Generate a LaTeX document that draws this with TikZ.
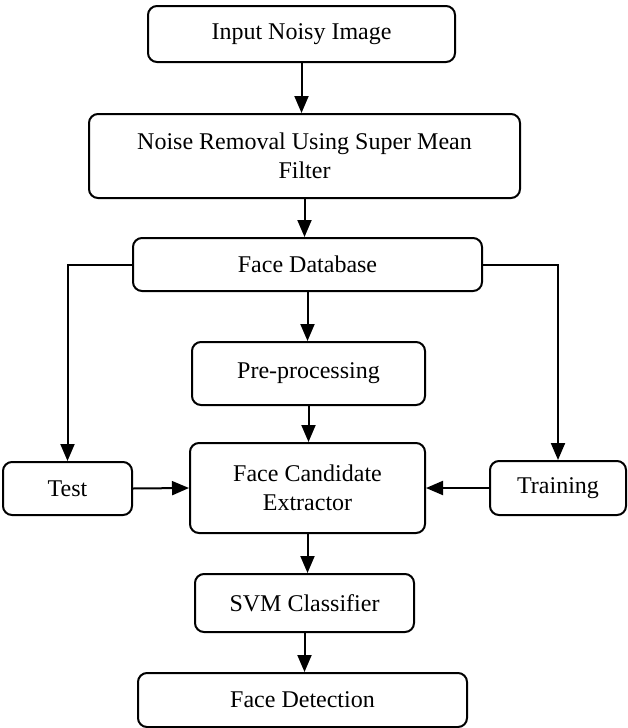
\documentclass[tikz,border=0pt]{standalone}
\usepackage{fontspec}
\setmainfont{Liberation Serif}
\usetikzlibrary{arrows.meta}
\begin{document}
\begin{tikzpicture}[x=0.5pt,y=-0.5pt,
  box/.style={draw,line width=1pt,rounded corners=4.5pt,align=center,inner sep=0pt,
    font=\fontsize{12}{14.5}\selectfont},
  arr/.style={line width=1pt,-{Triangle[width=7pt,length=8.5pt]}}]
\useasboundingbox (0,0) rectangle (627,728);
\node[box,minimum width=153.5pt,minimum height=28pt] (in) at (301.5,34) {Input Noisy Image};
\node[box,minimum width=215.5pt,minimum height=42pt] (nr) at (304.5,156) {Noise Removal Using Super Mean\\Filter};
\node[box,minimum width=174.5pt,minimum height=26.5pt] (fdb) at (307.5,264.5) {Face Database};
\node[box,minimum width=116.5pt,minimum height=31.5pt] (pre) at (308.5,373.5) {Pre-processing};
\node[box,minimum width=117.5pt,minimum height=45pt] (fce) at (307.5,488) {Face Candidate\\Extractor};
\node[box,minimum width=64.5pt,minimum height=26.5pt] (test) at (67.5,488.5) {Test};
\node[box,minimum width=68pt,minimum height=27pt] (train) at (558,488) {Training};
\node[box,minimum width=109.5pt,minimum height=29pt] (svm) at (304.5,603) {SVM Classifier};
\node[box,minimum width=164.5pt,minimum height=27pt] (fd) at (302.5,700) {Face Detection};
\draw[arr] (in.south) -- (in.south |- nr.north);
\draw[arr] (nr.south) -- (nr.south |- fdb.north);
\draw[arr] (fdb.south) -- (fdb.south |- pre.north);
\draw[arr] (pre.south) -- (pre.south |- fce.north);
\draw[arr] (fce.south) -- (fce.south |- svm.north);
\draw[arr] (svm.south) -- (svm.south |- fd.north);
\draw[arr] (fdb.west) -| (test.north);
\draw[arr] (fdb.east) -| (train.north);
\draw[arr] (test.east) -- (fce.west);
\draw[arr] (train.west) -- (fce.east);
\end{tikzpicture}
\end{document}
